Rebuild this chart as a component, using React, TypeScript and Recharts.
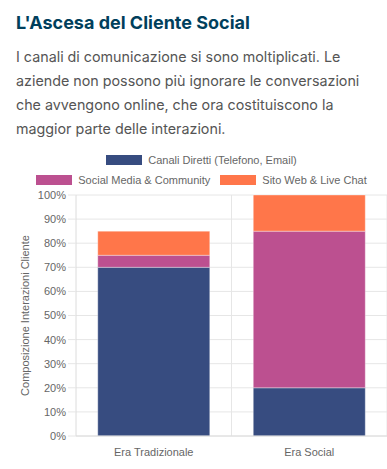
import React from 'react';
import {
  BarChart,
  Bar,
  XAxis,
  YAxis,
  CartesianGrid,
  Label
} from 'recharts';

const eras = ['Era Tradizionale', 'Era Social'];
const direct = [70, 20];
const social = [5, 65];
const web = [10, 15];
const yTicks = [0, 10, 20, 30, 40, 50, 60, 70, 80, 90, 100];

const series = [
  { key: 'direct', name: 'Canali Diretti (Telefono, Email)', color: '#374c80' },
  { key: 'social', name: 'Social Media & Community', color: '#bc5090' },
  { key: 'web', name: 'Sito Web & Live Chat', color: '#ff764a' }
];

const rows = eras.map((era, i) => ({
  era,
  direct: direct[i],
  social: social[i],
  web: web[i]
}));

const chartFont = 'Helvetica, Arial, "Liberation Sans", sans-serif';
const gridColor = '#e6e6e6';

const LegendItem = ({ name, color }: { name: string; color: string }) => (
  <div style={{ display: 'flex', alignItems: 'center', margin: '0 5px' }}>
    <span style={{ width: 36, height: 10, background: color, display: 'inline-block', marginRight: 6 }} />
    <span>{name}</span>
  </div>
);

export default function App() {
  return (
    <div style={{ position: 'absolute', left: 0, top: 0, width: 387, height: 469, overflow: 'hidden', background: '#fff' }}>
      <div style={{ position: 'absolute', left: 16, top: 12, fontFamily: 'Inter, sans-serif', fontWeight: 700, fontSize: 18, color: '#003f5c' }}>
        L'Ascesa del Cliente Social
      </div>
      <div style={{ position: 'absolute', left: 16, top: 45, width: 362, fontFamily: 'Inter, sans-serif', fontSize: 14.3, lineHeight: '24px', color: '#555' }}>
        I canali di comunicazione si sono moltiplicati. Le aziende non possono più ignorare le conversazioni che avvengono online, che ora costituiscono la maggior parte delle interazioni.
      </div>

      {/* legend, two rows like the original */}
      <div style={{ position: 'absolute', left: 16, top: 152, width: 371, fontFamily: chartFont, fontSize: 11, color: '#666' }}>
        <div style={{ display: 'flex', justifyContent: 'center', height: 16 }}>
          <LegendItem name={series[0].name} color={series[0].color} />
        </div>
        <div style={{ display: 'flex', justifyContent: 'center', height: 16, marginTop: 4 }}>
          <LegendItem name={series[1].name} color={series[1].color} />
          <LegendItem name={series[2].name} color={series[2].color} />
        </div>
      </div>

      <div style={{ position: 'absolute', left: 16, top: 187 }}>
        <BarChart
          width={371}
          height={282}
          data={rows}
          margin={{ top: 8, right: 0, left: 0, bottom: 3 }}
          barCategoryGap="14%"
        >
          <CartesianGrid
            stroke={gridColor}
            verticalCoordinatesGenerator={({ offset }: any) => [offset.left + offset.width / 2, offset.left + offset.width]}
          />
          <XAxis
            dataKey="era"
            height={30}
            tickLine={false}
            tickMargin={6}
            axisLine={{ stroke: '#dcdcdc' }}
            tick={{ fill: '#666', fontSize: 11, fontFamily: chartFont }}
          />
          <YAxis
            width={60}
            domain={[0, 100]}
            ticks={yTicks}
            interval={0}
            tickSize={8}
            tickFormatter={(v: number) => `${v}%`}
            tickLine={{ stroke: gridColor }}
            axisLine={{ stroke: '#dcdcdc' }}
            tick={{ fill: '#666', fontSize: 11, fontFamily: chartFont }}
          >
            <Label
              content={({ viewBox }: any) => {
                const x = viewBox.x + 9;
                const y = viewBox.y + viewBox.height / 2;
                return (
                  <text
                    x={x}
                    y={y}
                    transform={`rotate(-90, ${x}, ${y})`}
                    textAnchor="middle"
                    dominantBaseline="central"
                    fill="#666"
                    fontSize={11}
                    fontFamily={chartFont}
                  >
                    Composizione Interazioni Cliente
                  </text>
                );
              }}
            />
          </YAxis>
          {series.map(s => (
            <Bar
              key={s.key}
              dataKey={s.key}
              name={s.name}
              stackId="a"
              fill={s.color}
              stroke="#ffffff"
              strokeOpacity={0.35}
              strokeWidth={1}
              isAnimationActive={false}
            />
          ))}
        </BarChart>
      </div>
    </div>
  );
}
